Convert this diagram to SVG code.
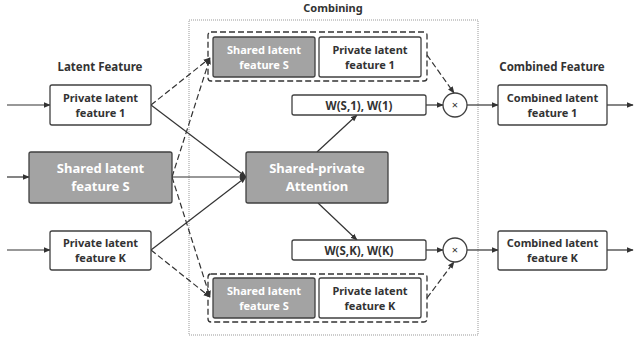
<svg xmlns="http://www.w3.org/2000/svg" width="634" height="343" viewBox="0 0 634 343">
<style>
text{font-family:"Noto Sans","Liberation Sans",sans-serif;font-weight:bold;text-anchor:middle;fill:#333}
.w{fill:#fff;stroke:#404040;stroke-width:1.3}
.g{fill:#a3a3a3;stroke:#404040;stroke-width:1.3}
.gt{fill:#fff}
.s{font-size:11px}
.l{font-size:11.5px}
.b{font-size:13px}
.grp{fill:none;stroke:#333;stroke-width:1.3;stroke-dasharray:6,3}
.ln{fill:none;stroke:#333;stroke-width:1.2;marker-end:url(#ah)}
.ds{stroke-dasharray:6,3}
</style>
<defs>
<marker id="ah" viewBox="0 0 10 10" refX="9" refY="5" markerWidth="7" markerHeight="7" markerUnits="userSpaceOnUse" orient="auto">
<path d="M0,1 L10,5 L0,9 z" fill="#333"/>
</marker>
</defs>
<rect x="189" y="20" width="289" height="315" fill="none" stroke="#999" stroke-width="1" stroke-dasharray="1,1"/>
<text class="l" x="100" y="71">Latent Feature</text>
<text class="s" x="333" y="12">Combining</text>
<text class="l" x="552" y="71">Combined Feature</text>
<g id="connectors">
<line class="ln" x1="7" y1="105" x2="50" y2="105"/>
<line class="ln" x1="7" y1="177" x2="29" y2="177"/>
<line class="ln" x1="7" y1="250" x2="50" y2="250"/>
<line class="ln ds" x1="151" y1="105" x2="210" y2="58"/>
<line class="ln ds" x1="172" y1="177" x2="210" y2="58"/>
<line class="ln ds" x1="172" y1="177" x2="210" y2="297"/>
<line class="ln ds" x1="151" y1="250" x2="210" y2="297"/>
<line class="ln" x1="151" y1="105" x2="246" y2="177"/>
<line class="ln" x1="172" y1="177" x2="246" y2="177"/>
<line class="ln" x1="151" y1="250" x2="246" y2="177"/>
<line class="ln" x1="317" y1="152" x2="357" y2="115"/>
<line class="ln" x1="318" y1="203" x2="357" y2="240"/>
<line class="ln" x1="426" y1="105" x2="443" y2="105"/>
<line class="ln" x1="426" y1="250" x2="443" y2="250"/>
<line class="ln ds" x1="427" y1="55" x2="454" y2="93"/>
<line class="ln ds" x1="427" y1="298" x2="454" y2="262"/>
<line class="ln" x1="467" y1="105" x2="498" y2="105"/>
<line class="ln" x1="467" y1="250" x2="498" y2="250"/>
<line class="ln" x1="607" y1="105" x2="633" y2="105"/>
<line class="ln" x1="607" y1="250" x2="633" y2="250"/>
</g>
<g id="private1"><rect class="w" x="50" y="85" width="101" height="40" rx="2"/><text class="s" x="100.5" y="101.5">Private latent</text><text class="s" x="100.5" y="116.5">feature 1</text></g>
<g id="sharedS"><rect class="g" x="29" y="152" width="143" height="51" rx="2"/><text class="b gt" x="100.5" y="173">Shared latent</text><text class="b gt" x="100.5" y="191">feature S</text></g>
<g id="privateK"><rect class="w" x="50" y="231" width="101" height="39" rx="2"/><text class="s" x="100.5" y="247">Private latent</text><text class="s" x="100.5" y="262">feature K</text></g>
<g id="attention"><rect class="g" x="246" y="152" width="142" height="51" rx="2"/><text class="b gt" x="317" y="173">Shared-private</text><text class="b gt" x="317" y="191">Attention</text></g>
<g id="group1"><rect class="grp" x="208" y="32" width="219" height="49" rx="3"/>
<rect class="g" x="213" y="37" width="102" height="40" rx="2"/><text class="s gt" x="264" y="53.5">Shared latent</text><text class="s gt" x="264" y="68.5">feature S</text>
<rect class="w" x="319" y="37" width="102" height="40" rx="2"/><text class="s" x="370" y="53.5">Private latent</text><text class="s" x="370" y="68.5">feature 1</text></g>
<g id="groupK"><rect class="grp" x="208" y="274" width="219" height="48" rx="3"/>
<rect class="g" x="213" y="278" width="102" height="40" rx="2"/><text class="s gt" x="264" y="294.5">Shared latent</text><text class="s gt" x="264" y="309.5">feature S</text>
<rect class="w" x="319" y="278" width="102" height="40" rx="2"/><text class="s" x="370" y="294.5">Private latent</text><text class="s" x="370" y="309.5">feature K</text></g>
<g id="w1"><rect class="w" x="292" y="95" width="134" height="20" rx="2"/><text class="l" x="359" y="109.5">W(S,1), W(1)</text></g>
<g id="wK"><rect class="w" x="292" y="240" width="134" height="20" rx="2"/><text class="l" x="359" y="254.5">W(S,K), W(K)</text></g>
<g id="mul1"><circle class="w" cx="455" cy="105" r="12"/><text class="s" x="455" y="109" style="font-weight:normal">×</text></g>
<g id="mulK"><circle class="w" cx="455" cy="250" r="12"/><text class="s" x="455" y="254" style="font-weight:normal">×</text></g>
<g id="combined1"><rect class="w" x="498" y="85" width="109" height="40" rx="2"/><text class="s" x="552.5" y="101.5">Combined latent</text><text class="s" x="552.5" y="116.5">feature 1</text></g>
<g id="combinedK"><rect class="w" x="498" y="231" width="109" height="39" rx="2"/><text class="s" x="552.5" y="247">Combined latent</text><text class="s" x="552.5" y="262">feature K</text></g>
</svg>
